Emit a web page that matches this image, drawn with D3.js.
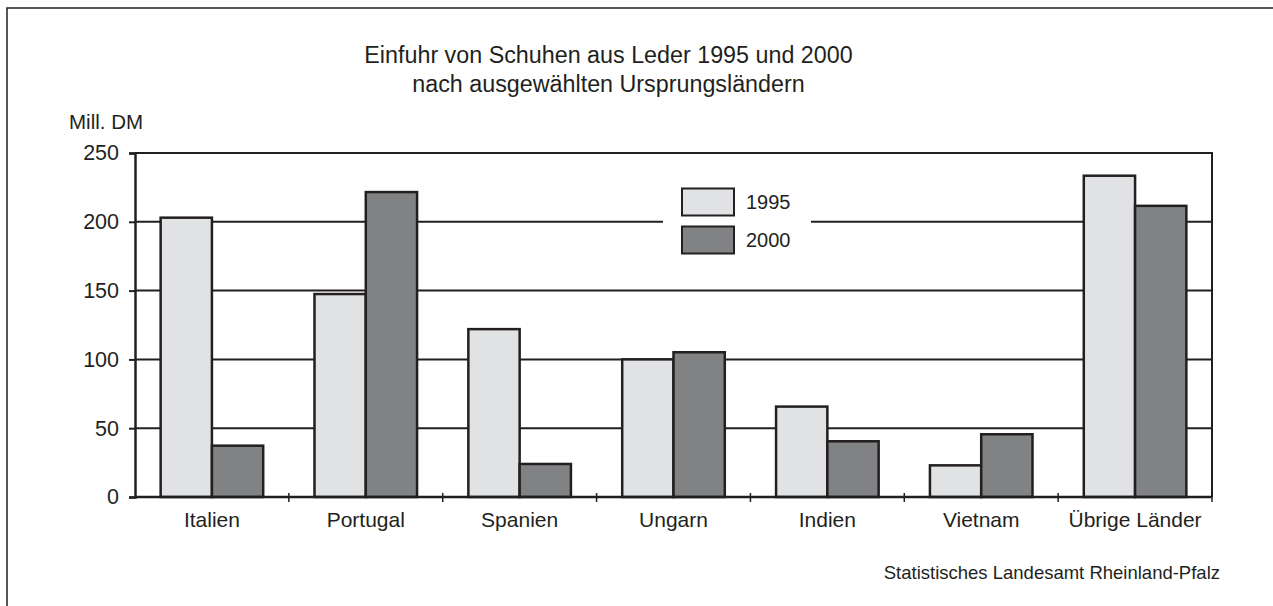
<!DOCTYPE html>
<html>
<head>
<meta charset="utf-8">
<script src="https://cdn.jsdelivr.net/npm/d3@7"></script>
<style>
  html, body { margin: 0; padding: 0; background: #fff; }
  svg { display: block; }
</style>
</head>
<body>
<div id="chart"></div>
<script>
// Einfuhr von Schuhen aus Leder, Mill. DM
const categories = ['Italien', 'Portugal', 'Spanien', 'Ungarn', 'Indien', 'Vietnam', 'Übrige Länder'];
const seriesNames = ['1995', '2000'];
const values1995 = [203, 147.5, 122, 100, 65.7, 23, 233.5];
const values2000 = [37.3, 221.6, 24, 105.2, 40.5, 45.6, 211.6];
const yTicks = [0, 50, 100, 150, 200, 250];
const titleLines = ['Einfuhr von Schuhen aus Leder 1995 und 2000', 'nach ausgewählten Ursprungsländern'];

const W = 1273, H = 606;
const ink = '#231f20';
const fills = { '1995': '#e1e2e4', '2000': '#818284' };
const font = '"Liberation Sans", Arial, Helvetica, sans-serif';

const plot = { left: 135, right: 1212, top: 153, bottom: 497 };

const svg = d3.select('#chart').append('svg')
  .attr('width', W).attr('height', H)
  .attr('viewBox', `0 0 ${W} ${H}`);

svg.append('rect').attr('width', W).attr('height', H).attr('fill', '#fff');

// outer frame (runs off the right and bottom edge)
svg.append('rect')
  .attr('x', 7).attr('y', 8)
  .attr('width', W + 20).attr('height', H + 20)
  .attr('fill', 'none').attr('stroke', ink).attr('stroke-width', 1.5);

// title
svg.append('text')
  .attr('x', 608.5).attr('y', 62.5)
  .attr('text-anchor', 'middle')
  .attr('font-family', font).attr('font-size', '23.3px').attr('fill', ink)
  .selectAll('tspan').data(titleLines).join('tspan')
  .attr('x', 608.5).attr('dy', (d, i) => i === 0 ? 0 : 29.5)
  .text(d => d);

const data = categories.map((c, i) => ({ cat: c, '1995': values1995[i], '2000': values2000[i] }));

const x0 = d3.scaleBand().domain(categories).range([plot.left, plot.right]).paddingInner(0).paddingOuter(0);
const x1 = d3.scaleBand().domain(seriesNames).range([0, x0.bandwidth()]).paddingInner(0).paddingOuter(0.5);
const y = d3.scaleLinear().domain([0, 250]).range([plot.bottom, plot.top]);

// gridlines
svg.append('g').selectAll('line').data(yTicks.filter(t => t > 0)).join('line')
  .attr('x1', plot.left).attr('x2', plot.right)
  .attr('y1', d => y(d)).attr('y2', d => y(d))
  .attr('stroke', ink).attr('stroke-width', 2);

// right border
svg.append('line')
  .attr('x1', plot.right).attr('x2', plot.right)
  .attr('y1', plot.top - 1).attr('y2', plot.bottom)
  .attr('stroke', ink).attr('stroke-width', 2);

// bars
const groups = svg.append('g').selectAll('g').data(data).join('g')
  .attr('transform', d => `translate(${x0(d.cat)},0)`);

groups.selectAll('rect')
  .data(d => seriesNames.map(s => ({ s, v: d[s] })))
  .join('rect')
  .attr('x', d => x1(d.s))
  .attr('y', d => y(d.v))
  .attr('width', x1.bandwidth())
  .attr('height', d => y(0) - y(d.v))
  .attr('fill', d => fills[d.s])
  .attr('stroke', ink).attr('stroke-width', 2.5);

// y axis
const yAxis = svg.append('g')
  .attr('transform', `translate(${plot.left},0)`)
  .call(d3.axisLeft(y).tickValues(yTicks).tickSize(6).tickPadding(10));
yAxis.select('.domain').attr('stroke', ink).attr('stroke-width', 2.5);
yAxis.selectAll('.tick line').attr('stroke', ink).attr('stroke-width', 2);
yAxis.selectAll('.tick text')
  .attr('font-family', font).attr('font-size', '21.5px').attr('fill', ink);

// x axis
svg.append('line')
  .attr('x1', plot.left).attr('x2', plot.right)
  .attr('y1', plot.bottom).attr('y2', plot.bottom)
  .attr('stroke', ink).attr('stroke-width', 2.5);

const boundaries = categories.slice(1).map(c => x0(c)).concat([plot.right]);
svg.append('g').selectAll('line').data(boundaries).join('line')
  .attr('x1', d => d).attr('x2', d => d)
  .attr('y1', plot.bottom - 4).attr('y2', plot.bottom + 5)
  .attr('stroke', ink).attr('stroke-width', 1.5);

svg.append('g').selectAll('text').data(categories).join('text')
  .attr('x', d => x0(d) + x0.bandwidth() / 2)
  .attr('y', 527)
  .attr('text-anchor', 'middle')
  .attr('font-family', font).attr('font-size', '21px').attr('fill', ink)
  .text(d => d);

// unit label
svg.append('text')
  .attr('x', 69).attr('y', 129)
  .attr('font-family', font).attr('font-size', '20.5px').attr('fill', ink)
  .text('Mill. DM');

// legend
const legend = svg.append('g');
legend.append('rect')
  .attr('x', 663).attr('y', 180).attr('width', 148).attr('height', 84)
  .attr('fill', '#fff');
seriesNames.forEach((s, i) => {
  const top = 188.5 + i * 38;
  legend.append('rect')
    .attr('x', 682).attr('y', top).attr('width', 52).attr('height', 27)
    .attr('fill', fills[s]).attr('stroke', ink).attr('stroke-width', 2);
  legend.append('text')
    .attr('x', 746).attr('y', top + 20.5)
    .attr('font-family', font).attr('font-size', '20px').attr('fill', ink)
    .text(s);
});

// source
svg.append('text')
  .attr('x', 1220).attr('y', 579)
  .attr('text-anchor', 'end')
  .attr('font-family', font).attr('font-size', '18.5px').attr('fill', ink)
  .text('Statistisches Landesamt Rheinland-Pfalz');
</script>
</body>
</html>
